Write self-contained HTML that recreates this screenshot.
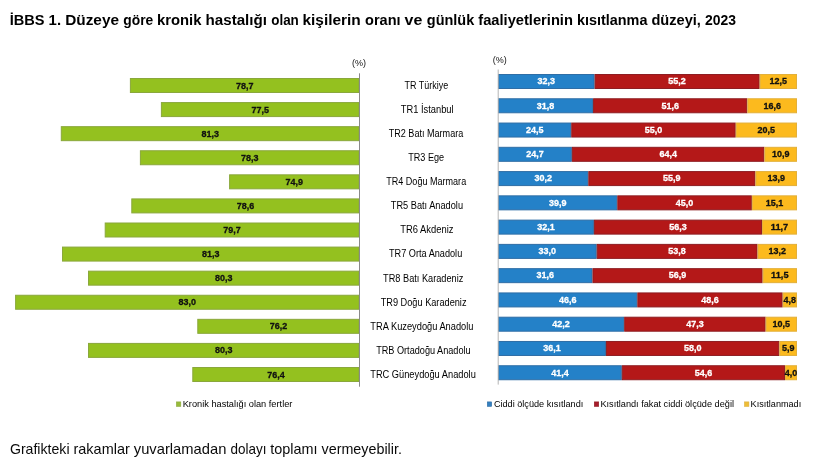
<!DOCTYPE html>
<html><head><meta charset="utf-8"><style>
html,body{margin:0;padding:0;background:#fff;}
body{width:828px;height:466px;overflow:hidden;position:relative;font-family:"Liberation Sans",sans-serif;}
svg{position:absolute;left:0;top:0;will-change:transform;}
.vl{font-family:"Liberation Sans",sans-serif;font-weight:bold;font-size:9.4px;text-anchor:middle;stroke-width:0.3px;}
.cl{font-family:"Liberation Sans",sans-serif;font-size:10px;fill:#000;}
.tt{font-family:"Liberation Sans",sans-serif;font-size:14.6px;font-weight:bold;fill:#000;}
.fnt{font-family:"Liberation Sans",sans-serif;font-size:14.4px;fill:#0a0a0a;}
.lg{font-family:"Liberation Sans",sans-serif;font-size:9.5px;fill:#000;}
.pc{font-family:"Liberation Sans",sans-serif;font-size:9px;fill:#111;}
</style></head><body>
<svg width="828" height="466" viewBox="0 0 828 466">
<text x="352" y="65.5" class="pc">(%)</text>
<text x="492.7" y="62.5" class="pc">(%)</text>
<rect x="130.40" y="78.50" width="228.60" height="14" fill="#94c11f" stroke="#8aa83c" stroke-width="1"/>
<text x="244.70" y="88.50" class="vl" fill="#111" stroke="#111" textLength="17.51" lengthAdjust="spacingAndGlyphs">78,7</text>
<rect x="161.40" y="102.58" width="197.60" height="14" fill="#94c11f" stroke="#8aa83c" stroke-width="1"/>
<text x="260.20" y="112.58" class="vl" fill="#111" stroke="#111" textLength="17.51" lengthAdjust="spacingAndGlyphs">77,5</text>
<rect x="61.30" y="126.67" width="297.70" height="14" fill="#94c11f" stroke="#8aa83c" stroke-width="1"/>
<text x="210.15" y="136.67" class="vl" fill="#111" stroke="#111" textLength="17.51" lengthAdjust="spacingAndGlyphs">81,3</text>
<rect x="140.40" y="150.75" width="218.60" height="14" fill="#94c11f" stroke="#8aa83c" stroke-width="1"/>
<text x="249.70" y="160.75" class="vl" fill="#111" stroke="#111" textLength="17.51" lengthAdjust="spacingAndGlyphs">78,3</text>
<rect x="229.60" y="174.83" width="129.40" height="14" fill="#94c11f" stroke="#8aa83c" stroke-width="1"/>
<text x="294.30" y="184.83" class="vl" fill="#111" stroke="#111" textLength="17.51" lengthAdjust="spacingAndGlyphs">74,9</text>
<rect x="131.80" y="198.91" width="227.20" height="14" fill="#94c11f" stroke="#8aa83c" stroke-width="1"/>
<text x="245.40" y="208.91" class="vl" fill="#111" stroke="#111" textLength="17.51" lengthAdjust="spacingAndGlyphs">78,6</text>
<rect x="105.20" y="223.00" width="253.80" height="14" fill="#94c11f" stroke="#8aa83c" stroke-width="1"/>
<text x="232.10" y="233.00" class="vl" fill="#111" stroke="#111" textLength="17.51" lengthAdjust="spacingAndGlyphs">79,7</text>
<rect x="62.50" y="247.08" width="296.50" height="14" fill="#94c11f" stroke="#8aa83c" stroke-width="1"/>
<text x="210.75" y="257.08" class="vl" fill="#111" stroke="#111" textLength="17.51" lengthAdjust="spacingAndGlyphs">81,3</text>
<rect x="88.50" y="271.16" width="270.50" height="14" fill="#94c11f" stroke="#8aa83c" stroke-width="1"/>
<text x="223.75" y="281.16" class="vl" fill="#111" stroke="#111" textLength="17.51" lengthAdjust="spacingAndGlyphs">80,3</text>
<rect x="15.60" y="295.25" width="343.40" height="14" fill="#94c11f" stroke="#8aa83c" stroke-width="1"/>
<text x="187.30" y="305.25" class="vl" fill="#111" stroke="#111" textLength="17.51" lengthAdjust="spacingAndGlyphs">83,0</text>
<rect x="197.80" y="319.33" width="161.20" height="14" fill="#94c11f" stroke="#8aa83c" stroke-width="1"/>
<text x="278.40" y="329.33" class="vl" fill="#111" stroke="#111" textLength="17.51" lengthAdjust="spacingAndGlyphs">76,2</text>
<rect x="88.50" y="343.41" width="270.50" height="14" fill="#94c11f" stroke="#8aa83c" stroke-width="1"/>
<text x="223.75" y="353.41" class="vl" fill="#111" stroke="#111" textLength="17.51" lengthAdjust="spacingAndGlyphs">80,3</text>
<rect x="192.80" y="367.50" width="166.20" height="14" fill="#94c11f" stroke="#8aa83c" stroke-width="1"/>
<text x="275.90" y="377.50" class="vl" fill="#111" stroke="#111" textLength="17.51" lengthAdjust="spacingAndGlyphs">76,4</text>
<rect x="498.50" y="74.50" width="95.58" height="14" fill="#2481c8" stroke="#2f6ea6" stroke-width="1"/>
<text x="546.29" y="84.30" class="vl" fill="#fff" stroke="#fff" textLength="17.51" lengthAdjust="spacingAndGlyphs">32,3</text>
<rect x="595.08" y="74.50" width="164.05" height="14" fill="#b41818" stroke="#8e1d22" stroke-width="1"/>
<text x="677.10" y="84.30" class="vl" fill="#fff" stroke="#fff" textLength="17.51" lengthAdjust="spacingAndGlyphs">55,2</text>
<rect x="760.12" y="74.50" width="36.38" height="14" fill="#fcba1e" stroke="#e3b03a" stroke-width="1"/>
<text x="778.31" y="84.30" class="vl" fill="#111" stroke="#111" textLength="17.51" lengthAdjust="spacingAndGlyphs">12,5</text>
<rect x="498.50" y="98.77" width="94.08" height="14" fill="#2481c8" stroke="#2f6ea6" stroke-width="1"/>
<text x="545.54" y="108.57" class="vl" fill="#fff" stroke="#fff" textLength="17.51" lengthAdjust="spacingAndGlyphs">31,8</text>
<rect x="593.58" y="98.77" width="153.28" height="14" fill="#b41818" stroke="#8e1d22" stroke-width="1"/>
<text x="670.22" y="108.57" class="vl" fill="#fff" stroke="#fff" textLength="17.51" lengthAdjust="spacingAndGlyphs">51,6</text>
<rect x="747.87" y="98.77" width="48.63" height="14" fill="#fcba1e" stroke="#e3b03a" stroke-width="1"/>
<text x="772.18" y="108.57" class="vl" fill="#111" stroke="#111" textLength="17.51" lengthAdjust="spacingAndGlyphs">16,6</text>
<rect x="498.50" y="123.04" width="72.25" height="14" fill="#2481c8" stroke="#2f6ea6" stroke-width="1"/>
<text x="534.63" y="132.84" class="vl" fill="#fff" stroke="#fff" textLength="17.51" lengthAdjust="spacingAndGlyphs">24,5</text>
<rect x="571.75" y="123.04" width="163.45" height="14" fill="#b41818" stroke="#8e1d22" stroke-width="1"/>
<text x="653.48" y="132.84" class="vl" fill="#fff" stroke="#fff" textLength="17.51" lengthAdjust="spacingAndGlyphs">55,0</text>
<rect x="736.20" y="123.04" width="60.30" height="14" fill="#fcba1e" stroke="#e3b03a" stroke-width="1"/>
<text x="766.35" y="132.84" class="vl" fill="#111" stroke="#111" textLength="17.51" lengthAdjust="spacingAndGlyphs">20,5</text>
<rect x="498.50" y="147.31" width="72.85" height="14" fill="#2481c8" stroke="#2f6ea6" stroke-width="1"/>
<text x="534.93" y="157.11" class="vl" fill="#fff" stroke="#fff" textLength="17.51" lengthAdjust="spacingAndGlyphs">24,7</text>
<rect x="572.35" y="147.31" width="191.56" height="14" fill="#b41818" stroke="#8e1d22" stroke-width="1"/>
<text x="668.13" y="157.11" class="vl" fill="#fff" stroke="#fff" textLength="17.51" lengthAdjust="spacingAndGlyphs">64,4</text>
<rect x="764.91" y="147.31" width="31.59" height="14" fill="#fcba1e" stroke="#e3b03a" stroke-width="1"/>
<text x="780.70" y="157.11" class="vl" fill="#111" stroke="#111" textLength="17.51" lengthAdjust="spacingAndGlyphs">10,9</text>
<rect x="498.50" y="171.58" width="89.30" height="14" fill="#2481c8" stroke="#2f6ea6" stroke-width="1"/>
<text x="543.15" y="181.38" class="vl" fill="#fff" stroke="#fff" textLength="17.51" lengthAdjust="spacingAndGlyphs">30,2</text>
<rect x="588.80" y="171.58" width="166.14" height="14" fill="#b41818" stroke="#8e1d22" stroke-width="1"/>
<text x="671.87" y="181.38" class="vl" fill="#fff" stroke="#fff" textLength="17.51" lengthAdjust="spacingAndGlyphs">55,9</text>
<rect x="755.94" y="171.58" width="40.56" height="14" fill="#fcba1e" stroke="#e3b03a" stroke-width="1"/>
<text x="776.22" y="181.38" class="vl" fill="#111" stroke="#111" textLength="17.51" lengthAdjust="spacingAndGlyphs">13,9</text>
<rect x="498.50" y="195.85" width="118.30" height="14" fill="#2481c8" stroke="#2f6ea6" stroke-width="1"/>
<text x="557.65" y="205.65" class="vl" fill="#fff" stroke="#fff" textLength="17.51" lengthAdjust="spacingAndGlyphs">39,9</text>
<rect x="617.80" y="195.85" width="133.55" height="14" fill="#b41818" stroke="#8e1d22" stroke-width="1"/>
<text x="684.58" y="205.65" class="vl" fill="#fff" stroke="#fff" textLength="17.51" lengthAdjust="spacingAndGlyphs">45,0</text>
<rect x="752.35" y="195.85" width="44.15" height="14" fill="#fcba1e" stroke="#e3b03a" stroke-width="1"/>
<text x="774.43" y="205.65" class="vl" fill="#111" stroke="#111" textLength="17.51" lengthAdjust="spacingAndGlyphs">15,1</text>
<rect x="498.50" y="220.12" width="94.88" height="14" fill="#2481c8" stroke="#2f6ea6" stroke-width="1"/>
<text x="545.94" y="229.92" class="vl" fill="#fff" stroke="#fff" textLength="17.51" lengthAdjust="spacingAndGlyphs">32,1</text>
<rect x="594.38" y="220.12" width="167.17" height="14" fill="#b41818" stroke="#8e1d22" stroke-width="1"/>
<text x="677.97" y="229.92" class="vl" fill="#fff" stroke="#fff" textLength="17.51" lengthAdjust="spacingAndGlyphs">56,3</text>
<rect x="762.55" y="220.12" width="33.95" height="14" fill="#fcba1e" stroke="#e3b03a" stroke-width="1"/>
<text x="779.53" y="229.92" class="vl" fill="#111" stroke="#111" textLength="17.51" lengthAdjust="spacingAndGlyphs">11,7</text>
<rect x="498.50" y="244.39" width="97.67" height="14" fill="#2481c8" stroke="#2f6ea6" stroke-width="1"/>
<text x="547.34" y="254.19" class="vl" fill="#fff" stroke="#fff" textLength="17.51" lengthAdjust="spacingAndGlyphs">33,0</text>
<rect x="597.17" y="244.39" width="159.86" height="14" fill="#b41818" stroke="#8e1d22" stroke-width="1"/>
<text x="677.10" y="254.19" class="vl" fill="#fff" stroke="#fff" textLength="17.51" lengthAdjust="spacingAndGlyphs">53,8</text>
<rect x="758.03" y="244.39" width="38.47" height="14" fill="#fcba1e" stroke="#e3b03a" stroke-width="1"/>
<text x="777.27" y="254.19" class="vl" fill="#111" stroke="#111" textLength="17.51" lengthAdjust="spacingAndGlyphs">13,2</text>
<rect x="498.50" y="268.66" width="93.48" height="14" fill="#2481c8" stroke="#2f6ea6" stroke-width="1"/>
<text x="545.24" y="278.46" class="vl" fill="#fff" stroke="#fff" textLength="17.51" lengthAdjust="spacingAndGlyphs">31,6</text>
<rect x="592.98" y="268.66" width="169.13" height="14" fill="#b41818" stroke="#8e1d22" stroke-width="1"/>
<text x="677.55" y="278.46" class="vl" fill="#fff" stroke="#fff" textLength="17.51" lengthAdjust="spacingAndGlyphs">56,9</text>
<rect x="763.12" y="268.66" width="33.38" height="14" fill="#fcba1e" stroke="#e3b03a" stroke-width="1"/>
<text x="779.81" y="278.46" class="vl" fill="#111" stroke="#111" textLength="17.51" lengthAdjust="spacingAndGlyphs">11,5</text>
<rect x="498.50" y="292.93" width="138.33" height="14" fill="#2481c8" stroke="#2f6ea6" stroke-width="1"/>
<text x="567.67" y="302.73" class="vl" fill="#fff" stroke="#fff" textLength="17.51" lengthAdjust="spacingAndGlyphs">46,6</text>
<rect x="637.83" y="292.93" width="144.31" height="14" fill="#b41818" stroke="#8e1d22" stroke-width="1"/>
<text x="709.99" y="302.73" class="vl" fill="#fff" stroke="#fff" textLength="17.51" lengthAdjust="spacingAndGlyphs">48,6</text>
<rect x="783.15" y="292.93" width="13.35" height="14" fill="#fcba1e" stroke="#e3b03a" stroke-width="1"/>
<text x="789.82" y="302.73" class="vl" fill="#111" stroke="#111" textLength="12.51" lengthAdjust="spacingAndGlyphs">4,8</text>
<rect x="498.50" y="317.20" width="125.18" height="14" fill="#2481c8" stroke="#2f6ea6" stroke-width="1"/>
<text x="561.09" y="327.00" class="vl" fill="#fff" stroke="#fff" textLength="17.51" lengthAdjust="spacingAndGlyphs">42,2</text>
<rect x="624.68" y="317.20" width="140.43" height="14" fill="#b41818" stroke="#8e1d22" stroke-width="1"/>
<text x="694.89" y="327.00" class="vl" fill="#fff" stroke="#fff" textLength="17.51" lengthAdjust="spacingAndGlyphs">47,3</text>
<rect x="766.11" y="317.20" width="30.39" height="14" fill="#fcba1e" stroke="#e3b03a" stroke-width="1"/>
<text x="781.30" y="327.00" class="vl" fill="#111" stroke="#111" textLength="17.51" lengthAdjust="spacingAndGlyphs">10,5</text>
<rect x="498.50" y="341.47" width="106.94" height="14" fill="#2481c8" stroke="#2f6ea6" stroke-width="1"/>
<text x="551.97" y="351.27" class="vl" fill="#fff" stroke="#fff" textLength="17.51" lengthAdjust="spacingAndGlyphs">36,1</text>
<rect x="606.44" y="341.47" width="172.42" height="14" fill="#b41818" stroke="#8e1d22" stroke-width="1"/>
<text x="692.65" y="351.27" class="vl" fill="#fff" stroke="#fff" textLength="17.51" lengthAdjust="spacingAndGlyphs">58,0</text>
<rect x="779.86" y="341.47" width="16.64" height="14" fill="#fcba1e" stroke="#e3b03a" stroke-width="1"/>
<text x="788.18" y="351.27" class="vl" fill="#111" stroke="#111" textLength="12.51" lengthAdjust="spacingAndGlyphs">5,9</text>
<rect x="498.50" y="365.74" width="122.79" height="14" fill="#2481c8" stroke="#2f6ea6" stroke-width="1"/>
<text x="559.89" y="375.54" class="vl" fill="#fff" stroke="#fff" textLength="17.51" lengthAdjust="spacingAndGlyphs">41,4</text>
<rect x="622.29" y="365.74" width="162.25" height="14" fill="#b41818" stroke="#8e1d22" stroke-width="1"/>
<text x="703.41" y="375.54" class="vl" fill="#fff" stroke="#fff" textLength="17.51" lengthAdjust="spacingAndGlyphs">54,6</text>
<rect x="785.54" y="365.74" width="10.96" height="14" fill="#fcba1e" stroke="#e3b03a" stroke-width="1"/>
<text x="791.02" y="375.54" class="vl" fill="#111" stroke="#111" textLength="12.51" lengthAdjust="spacingAndGlyphs">4,0</text>
<line x1="359.5" y1="73.3" x2="359.5" y2="386.7" stroke="#8a8a8a" stroke-width="1"/>
<line x1="498.2" y1="69.5" x2="498.2" y2="384.6" stroke="#b4b4b4" stroke-width="1"/>
<text x="404.58" y="88.90" class="cl" textLength="43.64" lengthAdjust="spacingAndGlyphs">TR Türkiye</text>
<text x="400.77" y="112.98" class="cl" textLength="52.87" lengthAdjust="spacingAndGlyphs">TR1 İstanbul</text>
<text x="388.68" y="137.07" class="cl" textLength="74.63" lengthAdjust="spacingAndGlyphs">TR2 Batı Marmara</text>
<text x="408.28" y="161.15" class="cl" textLength="35.84" lengthAdjust="spacingAndGlyphs">TR3 Ege</text>
<text x="386.24" y="185.23" class="cl" textLength="79.93" lengthAdjust="spacingAndGlyphs">TR4 Doğu Marmara</text>
<text x="390.77" y="209.31" class="cl" textLength="72.26" lengthAdjust="spacingAndGlyphs">TR5 Batı Anadolu</text>
<text x="400.31" y="233.40" class="cl" textLength="53.17" lengthAdjust="spacingAndGlyphs">TR6 Akdeniz</text>
<text x="388.98" y="257.48" class="cl" textLength="73.25" lengthAdjust="spacingAndGlyphs">TR7 Orta Anadolu</text>
<text x="383.12" y="281.56" class="cl" textLength="80.16" lengthAdjust="spacingAndGlyphs">TR8 Batı Karadeniz</text>
<text x="380.72" y="305.65" class="cl" textLength="85.77" lengthAdjust="spacingAndGlyphs">TR9 Doğu Karadeniz</text>
<text x="370.35" y="329.73" class="cl" textLength="103.11" lengthAdjust="spacingAndGlyphs">TRA Kuzeydoğu Anadolu</text>
<text x="376.16" y="353.81" class="cl" textLength="94.48" lengthAdjust="spacingAndGlyphs">TRB Ortadoğu Anadolu</text>
<text x="370.22" y="377.90" class="cl" textLength="105.60" lengthAdjust="spacingAndGlyphs">TRC Güneydoğu Anadolu</text>
<text x="9.70" y="24.6" class="tt" textLength="34.85" lengthAdjust="spacingAndGlyphs">İBBS</text>
<text x="48.60" y="24.6" class="tt" textLength="12.45" lengthAdjust="spacingAndGlyphs">1.</text>
<text x="65.20" y="24.6" class="tt" textLength="53.83" lengthAdjust="spacingAndGlyphs">Düzeye</text>
<text x="123.30" y="24.6" class="tt" textLength="29.92" lengthAdjust="spacingAndGlyphs">göre</text>
<text x="156.98" y="24.6" class="tt" textLength="44.48" lengthAdjust="spacingAndGlyphs">kronik</text>
<text x="205.56" y="24.6" class="tt" textLength="61.43" lengthAdjust="spacingAndGlyphs">hastalığı</text>
<text x="271.20" y="24.6" class="tt" textLength="27.64" lengthAdjust="spacingAndGlyphs">olan</text>
<text x="302.44" y="24.6" class="tt" textLength="58.37" lengthAdjust="spacingAndGlyphs">kişilerin</text>
<text x="365.10" y="24.6" class="tt" textLength="35.47" lengthAdjust="spacingAndGlyphs">oranı</text>
<text x="404.60" y="24.6" class="tt" textLength="17.76" lengthAdjust="spacingAndGlyphs">ve</text>
<text x="426.80" y="24.6" class="tt" textLength="47.48" lengthAdjust="spacingAndGlyphs">günlük</text>
<text x="478.30" y="24.6" class="tt" textLength="94.62" lengthAdjust="spacingAndGlyphs">faaliyetlerinin</text>
<text x="577.01" y="24.6" class="tt" textLength="70.39" lengthAdjust="spacingAndGlyphs">kısıtlanma</text>
<text x="651.40" y="24.6" class="tt" textLength="49.54" lengthAdjust="spacingAndGlyphs">düzeyi,</text>
<text x="705.00" y="24.6" class="tt" textLength="31.01" lengthAdjust="spacingAndGlyphs">2023</text>
<text x="9.90" y="454" class="fnt" textLength="59.67" lengthAdjust="spacingAndGlyphs">Grafikteki</text>
<text x="73.50" y="454" class="fnt" textLength="56.28" lengthAdjust="spacingAndGlyphs">rakamlar</text>
<text x="133.80" y="454" class="fnt" textLength="92.60" lengthAdjust="spacingAndGlyphs">yuvarlamadan</text>
<text x="230.50" y="454" class="fnt" textLength="35.96" lengthAdjust="spacingAndGlyphs">dolayı</text>
<text x="270.20" y="454" class="fnt" textLength="47.29" lengthAdjust="spacingAndGlyphs">toplamı</text>
<text x="321.50" y="454" class="fnt" textLength="80.39" lengthAdjust="spacingAndGlyphs">vermeyebilir.</text>
<rect x="176.4" y="401.9" width="4.4" height="4.5" fill="#98bb3a" stroke="#8aa83c" stroke-width="0.6"/>
<text x="182.7" y="407.3" class="lg" textLength="109.7" lengthAdjust="spacingAndGlyphs">Kronik hastalığı olan fertler</text>
<rect x="487.3" y="401.9" width="4.4" height="4.5" fill="#3580c0" stroke="#2f6ea6" stroke-width="0.6"/>
<text x="493.9" y="406.9" class="lg" textLength="89.4" lengthAdjust="spacingAndGlyphs">Ciddi ölçüde kısıtlandı</text>
<rect x="594.3" y="401.9" width="4.4" height="4.5" fill="#a81c2c" stroke="#8e1d22" stroke-width="0.6"/>
<text x="600.4" y="406.9" class="lg" textLength="133.6" lengthAdjust="spacingAndGlyphs">Kısıtlandı fakat ciddi ölçüde değil</text>
<rect x="744.5" y="401.9" width="4.4" height="4.5" fill="#eebd36" stroke="#dcae3c" stroke-width="0.6"/>
<text x="750.6" y="406.9" class="lg" textLength="50.6" lengthAdjust="spacingAndGlyphs">Kısıtlanmadı</text>
</svg>
</body></html>
